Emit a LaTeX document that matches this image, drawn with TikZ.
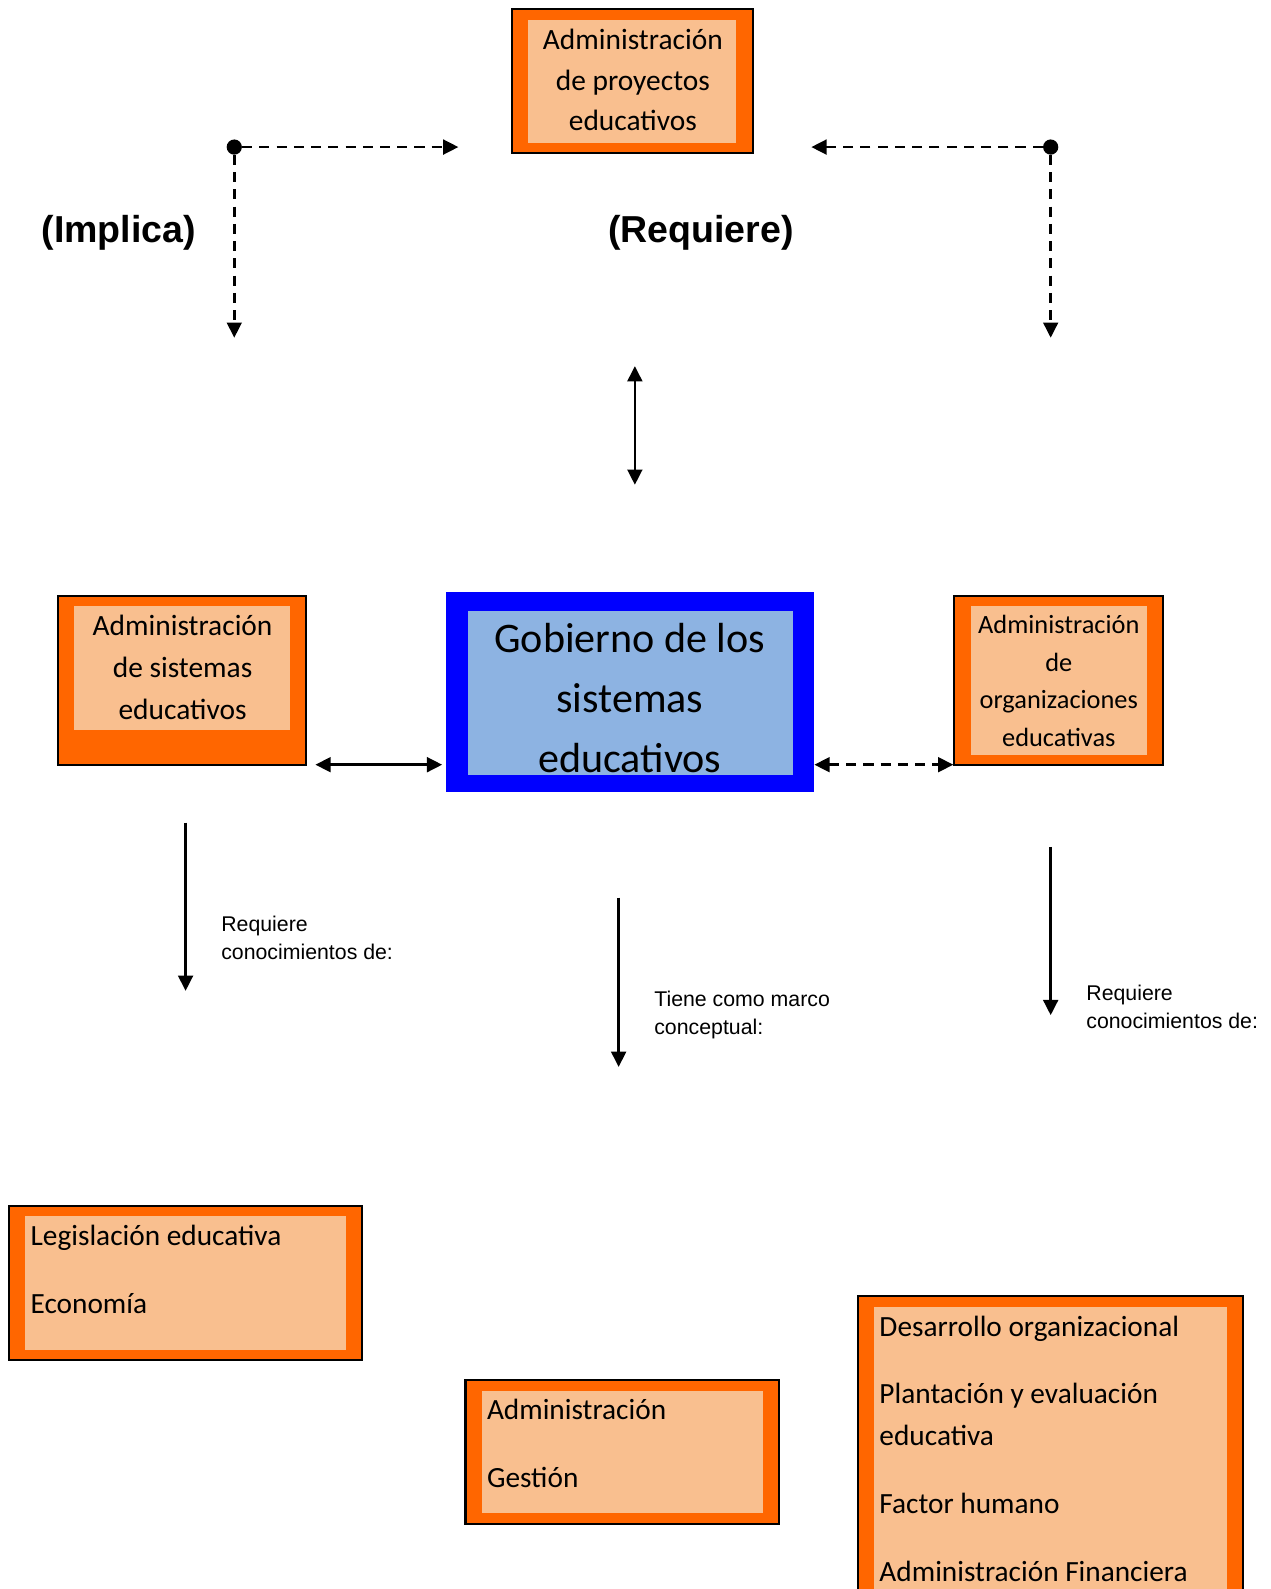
\documentclass[tikz,border=0pt]{standalone}
\usepackage{fontspec}
\setmainfont{Carlito}
\newfontfamily\arialf{Liberation Sans}
\usetikzlibrary{arrows.meta}
\definecolor{orng}{HTML}{FF6600}
\definecolor{peach}{HTML}{F9BF8F}
\definecolor{bluefr}{HTML}{0000FF}
\definecolor{ltblue}{HTML}{8DB3E2}
\begin{document}
\begin{tikzpicture}[x=1pt,y=-1pt,
  outerbox/.style={draw=black, line width=2pt, fill=orng, inner sep=0pt, minimum width=#1},
  innerbox/.style={fill=peach, inner sep=0pt, minimum width=#1},
  bluebox/.style={fill=bluefr, inner sep=0pt, minimum width=#1},
  ltbluebox/.style={fill=ltblue, inner sep=0pt, minimum width=#1},
  boxtext/.style={inner sep=0pt, align=center},
  listtext/.style={inner sep=0pt, align=left, anchor=west, font=\fontsize{28.9}{41}\selectfont},
  smalllabel/.style={inner sep=0pt, align=left, anchor=west, font=\arialf\fontsize{21}{28}\selectfont},
  biglabel/.style={inner sep=0pt, font=\arialf\bfseries\fontsize{37}{44}\selectfont},
  conn/.style={line width=2.6pt, -{Triangle[length=15pt,width=14.5pt]}},
  dconn/.style={line width=2.6pt, {Triangle[length=15pt,width=14.5pt]}-{Triangle[length=15pt,width=14.5pt]}},
  dashedline/.style={dash pattern=on 10pt off 7pt},
  dotnode/.style={circle, fill=black, inner sep=0pt, minimum size=15pt}
]
\useasboundingbox (0,0) rectangle (1253.2,1566.8);
\clip (0,0) rectangle (1253.2,1566.8);

% Top box
\node[outerbox=237pt, minimum height=142pt] (topO) at (623.5,80) {};
\node[innerbox=205pt, minimum height=121pt] (topI) at (623.5,80.5) {};
\node[boxtext, font=\fontsize{29}{40}\selectfont] (topT) at (624,79) {Administración\\de proyectos\\educativos};

% Left middle box
\node[outerbox=245pt, minimum height=166pt] (lmO) at (179.5,671) {};
\node[innerbox=213pt, minimum height=122pt] (lmI) at (179.5,659) {};
\node[boxtext, font=\fontsize{29}{41}\selectfont] (lmT) at (180,658) {Administración\\de sistemas\\educativos};

% Center blue box
\node[bluebox=363pt, minimum height=197pt] (cO) at (621.5,682.5) {};
\node[ltbluebox=321pt, minimum height=162pt] (cI) at (621.5,683) {};
\node[boxtext, font=\fontsize{41.5}{59}\selectfont] (cT) at (621,688) {Gobierno de los\\sistemas\\educativos};

% Right middle box
\node[outerbox=206pt, minimum height=166pt] (rmO) at (1044,671) {};
\node[innerbox=174pt, minimum height=146pt] (rmI) at (1044,671) {};
\node[boxtext, font=\fontsize{26}{37}\selectfont] (rmT) at (1044,671.5) {Administración\\de\\organizaciones\\educativas};

% Bottom left box
\node[outerbox=348pt, minimum height=152pt] (blO) at (183,1265) {};
\node[innerbox=316pt, minimum height=132pt] (blI) at (183,1265) {};
\node[listtext] (blT) at (30,1251.5) {Legislación educativa\\[26pt]Economía};

% Bottom middle box
\node[outerbox=309pt, minimum height=142pt] (bmO) at (613.5,1432) {};
\node[innerbox=277pt, minimum height=120pt] (bmI) at (613.5,1432) {};
\node[listtext] (bmT) at (480,1423.5) {Administración\\[26pt]Gestión};

% Bottom right box
\node[outerbox=380pt, minimum height=342pt] (brO) at (1036,1449) {};
\node[innerbox=348pt, minimum height=320pt] (brI) at (1036,1449) {};
\node[listtext] (brT) at (867,1428.5) {Desarrollo organizacional\\[25pt]Plantación y evaluación\\educativa\\[26pt]Factor humano\\[26pt]Administración Financiera};

% Labels
\node[biglabel] (impl) at (117,230) {(Implica)};
\node[biglabel] (req) at (691,230) {(Requiere)};
\node[smalllabel] (l1) at (218,925) {Requiere\\conocimientos de:};
\node[smalllabel] (l2) at (645,1001) {Tiene como marco\\conceptual:};
\node[smalllabel] (l3) at (1071,993) {Requiere\\conocimientos de:};

% Dots and dashed connectors
\node[dotnode] (dL) at (231,145) {};
\node[dotnode] (dR) at (1036,145) {};
\coordinate (dLr) at (452,145);
\coordinate (dLd) at (231,333);
\coordinate (dRl) at (800,145);
\coordinate (dRd) at (1036,333);
\draw[conn, dashedline] (dL) -- (dLr);
\draw[conn, dashedline] (dL) -- (dLd);
\draw[conn, dashedline] (dR) -- (dRl);
\draw[conn, dashedline] (dR) -- (dRd);

% Vertical double arrow
\coordinate (vT) at (626,361);
\coordinate (vB) at (626,478);
\draw[dconn] (vT) -- (vB);

% Horizontal arrows near center box
\coordinate (hL1) at (311,754);
\coordinate (hL2) at (436,754);
\draw[dconn] (hL1) -- (hL2);
\coordinate (hR1) at (803,754);
\coordinate (hR2) at (940,754);
\draw[dconn, dashedline] (hR1) -- (hR2);

% Down arrows
\coordinate (a1s) at (183,811);
\coordinate (a1e) at (183,977);
\draw[conn] (a1s) -- (a1e);
\coordinate (a2s) at (610,885);
\coordinate (a2e) at (610,1052);
\draw[conn] (a2s) -- (a2e);
\coordinate (a3s) at (1036,835);
\coordinate (a3e) at (1036,1001);
\draw[conn] (a3s) -- (a3e);
\end{tikzpicture}
\end{document}
